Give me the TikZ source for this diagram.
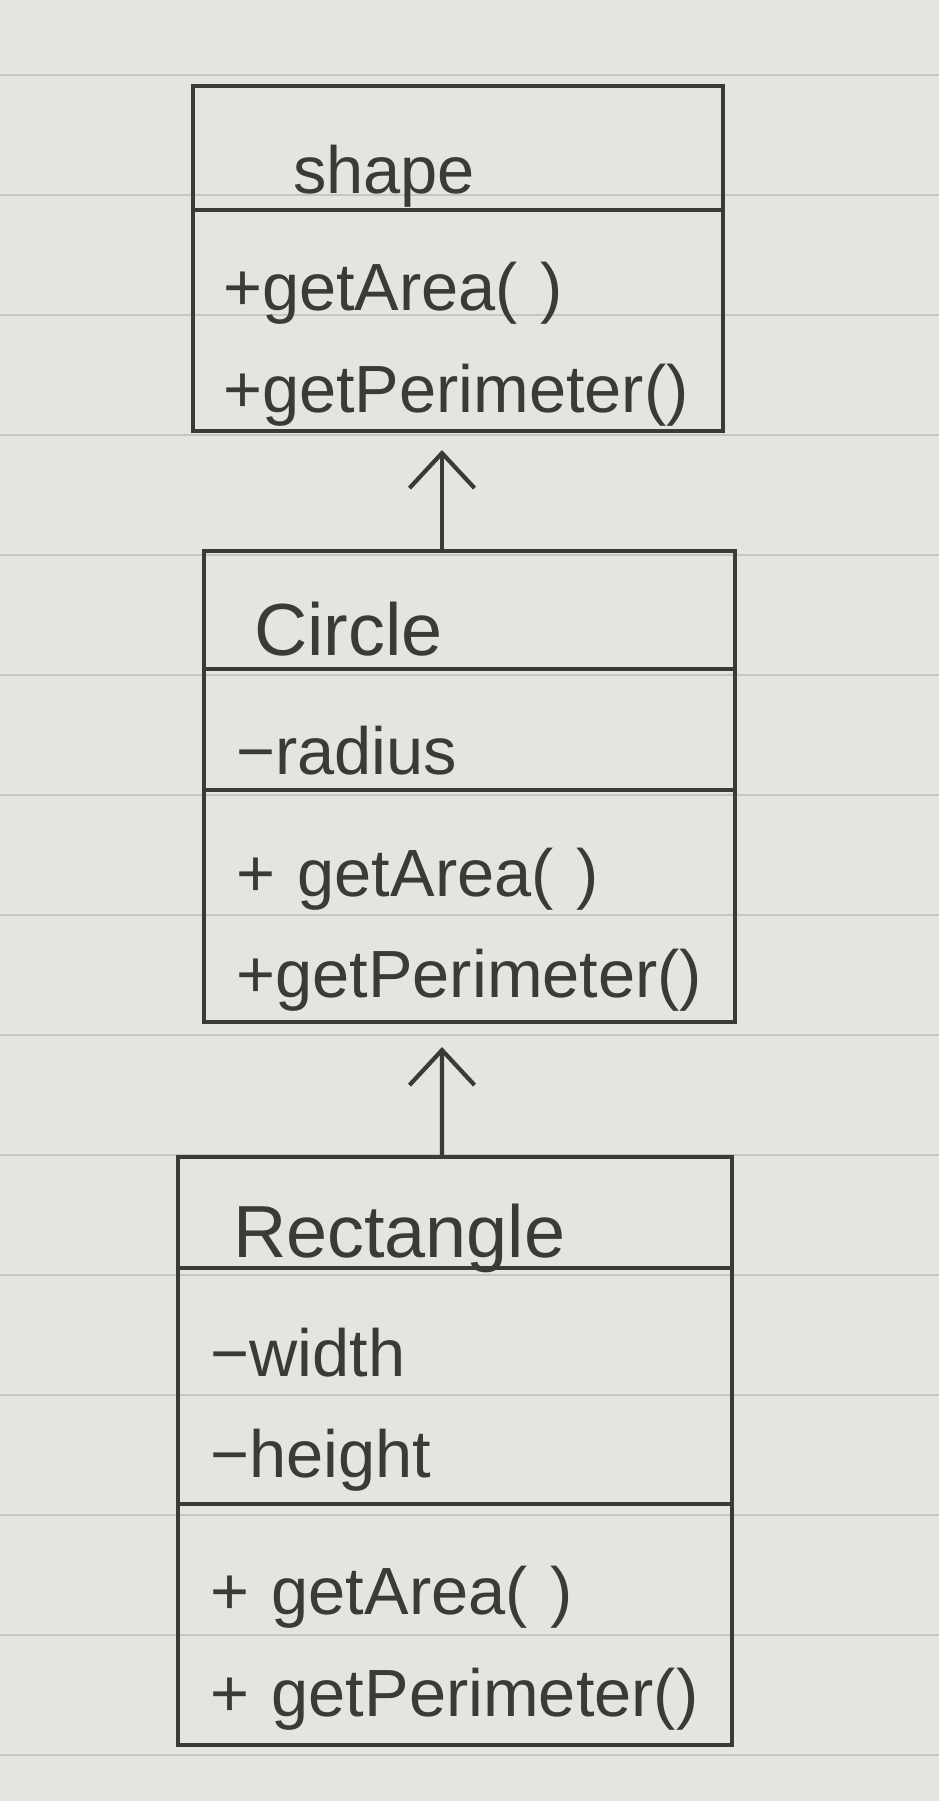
\documentclass[tikz,border=0pt]{standalone}
\usepackage{fontspec}
\setmainfont{Liberation Sans}
\usetikzlibrary{positioning, arrows.meta}
\definecolor{ink}{RGB}{58,58,56}
\definecolor{paper}{RGB}{228,228,225}
\definecolor{rule}{RGB}{198,198,196}

\begin{document}
\begin{tikzpicture}[part/.style = {draw=ink, line width=2.4pt, text=ink, font=\fontsize{38}{58}\selectfont, align=left, inner xsep=0.65cm, inner ysep=0pt, outer sep=0pt, text height=1cm, text depth=1.4cm},
                    single/.style = {part, text height=1.8cm, text depth=0cm},
                    title/.style = {single, font=\fontsize{42}{50}\selectfont},
                    inherit/.style = {draw=ink, line width=2.4pt, -{Straight Barb[length=0.7cm, width=1.3cm, line width=2.4pt]}}]
                \fill[paper] (0, 0) rectangle (18.78, -36.02);
                \useasboundingbox (0, 0) rectangle (18.78, -36.02);
                \foreach \y in {0, ..., 14}
                        \draw[rule, line width=0.8pt] (0, -1.5 - 2.4*\y) -- (18.78, -1.5 - 2.4*\y);

                \node[title, anchor=north west, minimum width=10.6cm, minimum height=2.48cm, text width=6.6cm, inner xsep=2cm, font=\fontsize{38}{50}\selectfont] at (3.86, -1.72) (shapeName) {shape};
                \node[part, below=0pt of shapeName, minimum width=10.6cm, minimum height=4.42cm, text width=9.4cm, inner xsep=0.6cm] (shapeOps) {+getArea( )\\+getPerimeter()};

                \node[title, anchor=north west, minimum width=10.62cm, minimum height=2.36cm, text width=8.62cm, inner xsep=1cm] at (4.08, -11.02) (circName) {Circle};
                \node[single, below=0pt of circName, minimum width=10.62cm, minimum height=2.42cm, text width=9.32cm] (circAttr) {−radius};
                \node[part, below=0pt of circAttr, minimum width=10.62cm, minimum height=4.64cm, text width=9.32cm] (circOps) {+ getArea( )\\+getPerimeter()};

                \node[title, anchor=north west, minimum width=11.08cm, minimum height=2.22cm, text width=8.88cm, inner xsep=1.1cm] at (3.56, -23.14) (rectName) {Rectangle};
                \node[part, below=0pt of rectName, minimum width=11.08cm, minimum height=4.72cm, text width=9.78cm] (rectAttr) {−width\\−height};
                \node[part, below=0pt of rectAttr, minimum width=11.08cm, minimum height=4.82cm, text width=9.78cm] (rectOps) {+ getArea( )\\+ getPerimeter()};

                \draw[inherit] ([xshift=-0.55cm]circName.north) -- ([xshift=-0.32cm, yshift=-0.38cm]shapeOps.south);
                \draw[inherit] ([xshift=-0.26cm]rectName.north) -- ([xshift=-0.55cm, yshift=-0.5cm]circOps.south);
\end{tikzpicture}
\end{document}
